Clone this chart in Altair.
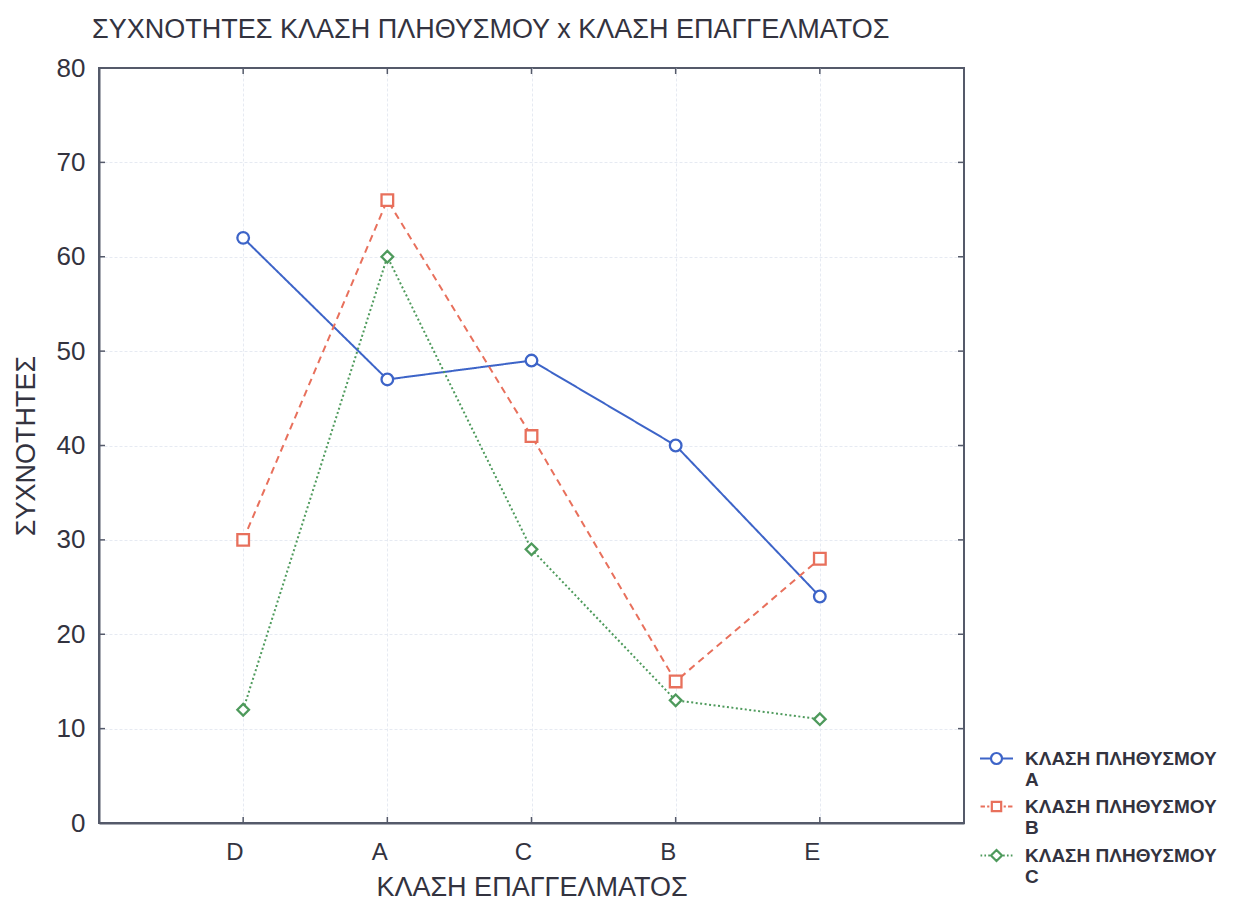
import altair as alt
import pandas as pd

categories = ["D", "A", "C", "B", "E"]
series_names = ["ΚΛΑΣΗ ΠΛΗΘΥΣΜΟΥ|A", "ΚΛΑΣΗ ΠΛΗΘΥΣΜΟΥ|B", "ΚΛΑΣΗ ΠΛΗΘΥΣΜΟΥ|C"]
values_a = [62, 47, 49, 40, 24]
values_b = [30, 66, 41, 15, 28]
values_c = [12, 60, 29, 13, 11]
y_ticks = [0, 10, 20, 30, 40, 50, 60, 70, 80]

title_text = "ΣΥΧΝΟΤΗΤΕΣ ΚΛΑΣΗ ΠΛΗΘΥΣΜΟΥ x ΚΛΑΣΗ ΕΠΑΓΓΕΛΜΑΤΟΣ"
x_title = "ΚΛΑΣΗ ΕΠΑΓΓΕΛΜΑΤΟΣ"
y_title = "ΣΥΧΝΟΤΗΤΕΣ"

colors = ["#3d64c8", "#e8705c", "#4e9a5c"]
dashes = [[1, 0], [7, 5], [2, 2.5]]
shapes = ["circle", "square", "diamond"]
legend_shapes = [
    "M-3,0H-1 M1,0H3 M1,0A1,1 0 1,1 -1,0A1,1 0 1,1 1,0",
    "M-2.9,0H-2.1 M-1.7,0H-1.3 M1.3,0H1.7 M2.1,0H2.9 M-0.85,-0.85H0.85V0.85H-0.85Z",
    "M-2.9,0H-2.6 M-2.2,0H-1.9 M-1.5,0H-1.2 M1.2,0H1.5 M1.9,0H2.2 M2.6,0H2.9 M0,-1L1,0L0,1L-1,0Z",
]

rows = []
for name, vals in zip(series_names, [values_a, values_b, values_c]):
    for c, v in zip(categories, vals):
        rows.append({"cat": c, "v": v, "series": name})
df = pd.DataFrame(rows)

W, H = 865, 755
FONT = "Liberation Sans"
TXT = "#33333f"
FRAME = "#555a6a"

x_enc = alt.X("cat:N", sort=categories,
              scale=alt.Scale(type="point", padding=1),
              axis=alt.Axis(title=x_title, labelAngle=0, ticks=False, labelPadding=29,
                            labelFontSize=24, titlePadding=10, grid=True))
y_enc = alt.Y("v:Q", scale=alt.Scale(domain=[0, 80], nice=False),
              axis=alt.Axis(title=y_title, values=y_ticks, ticks=False, labelPadding=14,
                            labelFontSize=26, titlePadding=16, grid=True,
                            gridOpacity={"condition": {"test": "datum.value === 80 || datum.value === 0",
                                                       "value": 0}, "value": 1}))

color_scale = alt.Scale(domain=series_names, range=colors)

base = alt.Chart(df)

lines = base.mark_line(strokeWidth=2).encode(
    x=x_enc, y=y_enc,
    color=alt.Color("series:N", scale=color_scale, legend=None),
    strokeDash=alt.StrokeDash("series:N", scale=alt.Scale(domain=series_names, range=dashes), legend=None),
)

points = base.mark_point(filled=True, fill="white", size=135, strokeWidth=2.3, opacity=1).encode(
    x=x_enc, y=y_enc,
    stroke=alt.Stroke("series:N", scale=color_scale, legend=None),
    shape=alt.Shape("series:N", scale=alt.Scale(domain=series_names, range=shapes), legend=None),
)

leg = alt.Legend(title=None, orient="none", legendX=888, legendY=681,
                 labelExpr="split(datum.label, '|')", labelFont=FONT, labelFontSize=19,
                 labelColor=TXT, labelFontWeight="bold", symbolSize=121, symbolStrokeWidth=2.2,
                 symbolOpacity=1, labelOffset=19, rowPadding=7, padding=0, labelLimit=300)

legend_layer = base.transform_filter("datum.v < 0").mark_point(filled=False, strokeWidth=2, opacity=1).encode(
    x=x_enc, y=y_enc,
    color=alt.Color("series:N", scale=alt.Scale(domain=series_names, range=colors), legend=leg),
    shape=alt.Shape("series:N", scale=alt.Scale(domain=series_names, range=legend_shapes), legend=leg),
)

tick_df = pd.DataFrame({"t": y_ticks})
ytick_left = alt.Chart(tick_df).mark_rule(color=FRAME, strokeWidth=1.5).encode(
    y=alt.Y("t:Q"), x=alt.value(0), x2=alt.value(6))
ytick_right = alt.Chart(tick_df).mark_rule(color=FRAME, strokeWidth=1.5).encode(
    y=alt.Y("t:Q"), x=alt.value(W - 6), x2=alt.value(W))
cat_df = pd.DataFrame({"cat": categories})
xtick_top = alt.Chart(cat_df).mark_rule(color=FRAME, strokeWidth=1.5).encode(
    x=alt.X("cat:N", sort=categories), y=alt.value(0), y2=alt.value(6))
xtick_bot = alt.Chart(cat_df).mark_rule(color=FRAME, strokeWidth=1.5).encode(
    x=alt.X("cat:N", sort=categories), y=alt.value(H - 6), y2=alt.value(H))

chart = alt.layer(
    ytick_left, ytick_right, xtick_top, xtick_bot, lines, points, legend_layer
).resolve_scale(
    color="independent", shape="independent", stroke="independent"
).properties(
    width=W, height=H,
    background="white",
    title=alt.Title(title_text, anchor="start", frame="group", dx=-7, offset=11,
                    font=FONT, fontSize=27, fontWeight="normal", color=TXT),
    autosize=alt.AutoSizeParams(type="none"),
    padding={"left": 91, "top": 60, "right": 262, "bottom": 78},
).configure_view(
    stroke=FRAME, strokeWidth=2
).configure_axis(
    labelFont=FONT, titleFont=FONT, titleFontSize=27,
    labelColor=TXT, titleColor=TXT, titleFontWeight="normal",
    domainColor=FRAME, domainWidth=2, gridColor="#e6eaf2", gridWidth=1, gridDash=[3, 2],
)

chart.save("out.html", embed_options={"renderer": "svg", "actions": False})
